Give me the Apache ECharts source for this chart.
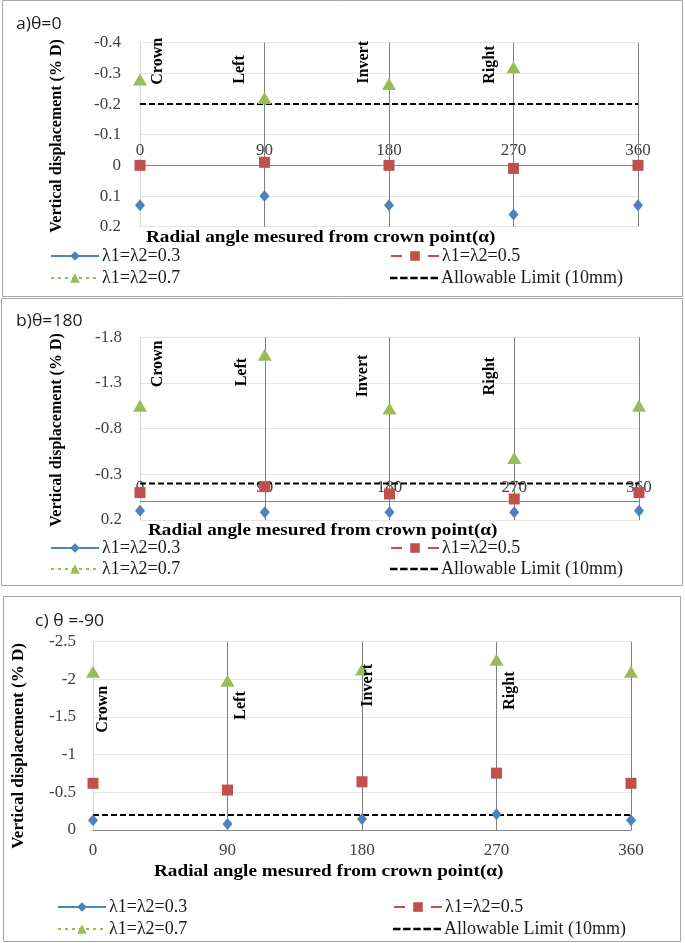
<!DOCTYPE html>
<html>
<head>
<meta charset="utf-8">
<script src="https://cdn.jsdelivr.net/npm/echarts@6/dist/echarts.min.js"></script>
<style>
html,body{margin:0;padding:0;background:#fff;}
#main{width:685px;height:943px;}
</style>
</head>
<body>
<div id="main"></div>
<script>
// ---------- data ----------
const angles = [0, 90, 180, 270, 360];
const dividerAngles = [90, 180, 270, 360];
const sectionAngles = [0, 90, 180, 270];
const sectionNames = ['Crown', 'Left', 'Invert', 'Right'];
const seriesNames = ['λ1=λ2=0.3', 'λ1=λ2=0.5', 'λ1=λ2=0.7'];
const limitName = 'Allowable Limit (10mm)';
const panelTitles = ['a)θ=0', 'b)θ=180', 'c) θ =-90'];
const xAxisTitle = 'Radial angle mesured from crown point(α)';
const yAxisTitle = 'Vertical displacement (% D)';

const yTicksA = [-0.4, -0.3, -0.2, -0.1, 0, 0.1, 0.2];
const yTicksB = [-1.8, -1.3, -0.8, -0.3, 0.2];
const yTicksC = [-2.5, -2, -1.5, -1, -0.5, 0];

const a03 = [0.13, 0.10, 0.13, 0.16, 0.13];
const a05 = [0.00, -0.01, 0.00, 0.01, 0.00];
const a07 = [-0.28, -0.22, -0.265, -0.32, null];
const aLimit = [-0.2, -0.2, -0.2, -0.2, -0.2];

const b03 = [0.10, 0.115, 0.115, 0.115, 0.10];
const b05 = [-0.10, -0.165, -0.085, -0.03, -0.10];
const b07 = [-1.05, -1.61, -1.02, -0.48, -1.05];
const bLimit = [-0.2, -0.2, -0.2, -0.2, -0.2];

const c03 = [-0.13, -0.08, -0.145, -0.21, -0.13];
const c05 = [-0.62, -0.53, -0.64, -0.755, -0.62];
const c07 = [-2.10, -1.98, -2.13, -2.26, -2.10];
const cLimit = [-0.2, -0.2, -0.2, -0.2, -0.2];

const panelData = [
  { ticks: yTicksA, vals: [a03, a05, a07], limit: aLimit },
  { ticks: yTicksB, vals: [b03, b05, b07], limit: bLimit },
  { ticks: yTicksC, vals: [c03, c05, c07], limit: cLimit }
];

// ---------- layout & style ----------
const SERIF = "'Liberation Serif','Times New Roman',serif";
const SANS = "'Open Sans','Noto Sans',sans-serif";
const layout = [
  { box: [2.5, 0.5, 680, 296], grid: { left: 140, top: 42.7, width: 498, height: 184 },
    title: [16, 24], yTitle: [57, 136, 16], xTitle: [146, 238],
    legRows: [257, 279], legCols: [50, 390], xInside: true, xMargin: 6, yMargin: 19, tick: 17,
    sectDx: [18, -25, -25, -24], sectBottom: [42, 41, 41, 41] },
  { box: [1.5, 298.5, 681, 287], grid: { left: 140, top: 337.3, width: 499, height: 182.7 },
    title: [16, 321], yTitle: [57, 430, 16], xTitle: [148, 531],
    legRows: [549, 570], legCols: [50, 390], xInside: true, xMargin: 6, yMargin: 18, tick: 17,
    sectDx: [18, -23, -27, -24], sectBottom: [50, 49, 60, 58] },
  { box: [3.5, 596.5, 677, 345], grid: { left: 93, top: 641.7, width: 538, height: 188.3 },
    title: [35, 621], yTitle: [19, 746, 17], xTitle: [154, 872],
    legRows: [908, 930], legCols: [57, 393], xInside: false, xMargin: 12, yMargin: 17, tick: 17,
    sectDx: [10, 13, 6, 13], sectBottom: [91, 78, 65, 68] }
];
const colors = ['#4f81bd', '#c0504d', '#9bbb59'];
const symbols = ['diamond', 'rect', 'triangle'];
const symbolSizes = [[10, 12], [11, 11], [14, 12]];
const lineTypes = ['solid', [11, 26], [3, 4]];
const lineWidths = [2, 2, 3];
const limitIcon = 'path://M0,0h7v2.5h-7z M9.5,0h7v2.5h-7z M19,0h7v2.5h-7z M28.5,0h7v2.5h-7z M38,0h7v2.5h-7z';

const fmt = v => String(Math.round(v * 10) / 10);

const grids = [], xAxes = [], yAxes = [], series = [], legends = [], graphics = [];

layout.forEach((L, p) => {
  const D = panelData[p];
  grids.push(Object.assign({ containLabel: false }, L.grid));
  xAxes.push({
    type: 'value', gridIndex: p, min: angles[0], max: angles[angles.length - 1],
    interval: angles[1] - angles[0], position: 'bottom',
    axisLine: { onZero: false, lineStyle: { color: '#868686', width: 1 } },
    axisTick: { show: false },
    splitLine: { show: false },
    axisLabel: { inside: L.xInside, margin: L.xMargin, color: '#404040', fontFamily: SERIF, fontSize: L.tick }
  });
  const t = D.ticks;
  yAxes.push({
    type: 'value', gridIndex: p, inverse: true,
    min: t[0], max: t[t.length - 1], interval: Math.round((t[1] - t[0]) * 100) / 100,
    axisLine: { show: true, onZero: false, lineStyle: { color: '#d4d4d4' } },
    axisTick: { show: false },
    splitLine: { show: true, lineStyle: { color: '#e6e6dc', width: 1 } },
    axisLabel: { margin: L.yMargin, color: '#404040', fontFamily: SERIF, fontSize: L.tick, formatter: fmt }
  });
  series.push({
    name: limitName, type: 'line', xAxisIndex: p, yAxisIndex: p,
    data: angles.map((a, i) => [a, D.limit[i]]),
    showSymbol: false, symbol: 'none',
    lineStyle: { color: '#000', width: 2, type: [6, 3] },
    itemStyle: { color: '#000' },
    z: 3, silent: true,
    markLine: {
      silent: true, symbol: ['none', 'none'], label: { show: false },
      lineStyle: { color: '#7f7f7f', width: 1, type: 'solid' },
      data: dividerAngles.map(a => ({ xAxis: a })),
      z: 1
    }
  });
  seriesNames.forEach((nm, s) => {
    series.push({
      name: nm, type: 'line', xAxisIndex: p, yAxisIndex: p,
      data: angles.map((a, i) => [a, D.vals[s][i]]),
      symbol: symbols[s], symbolSize: symbolSizes[s], showSymbol: true,
      lineStyle: { color: colors[s], width: lineWidths[s], type: lineTypes[s], opacity: 0 },
      itemStyle: { color: colors[s] },
      connectNulls: false, z: 4, silent: true
    });
  });
  const items = [
    [{ name: seriesNames[0] }, 0, 0], [{ name: seriesNames[1] }, 0, 1],
    [{ name: seriesNames[2] }, 1, 0], [{ name: limitName, icon: limitIcon }, 1, 1]
  ];
  items.forEach(([it, r, c]) => {
    legends.push({
      data: [it], left: L.legCols[c], top: L.legRows[r] - 10, padding: 0,
      itemWidth: 48, itemHeight: 12, itemGap: 0, selectedMode: false,
      lineStyle: { opacity: 1 },
      textStyle: { fontFamily: SERIF, fontSize: 18, color: '#1a1a1a', padding: [0, 0, 0, -2] }
    });
  });
  graphics.push({ type: 'rect', shape: { x: L.box[0], y: L.box[1], width: L.box[2], height: L.box[3] },
    style: { fill: 'none', stroke: '#a6a6a6', lineWidth: 1 }, silent: true, z: -10 });
  graphics.push({ type: 'text', x: L.title[0], y: L.title[1], scaleX: 1.1,
    style: { text: panelTitles[p], font: '16px ' + SANS, fill: '#1a1a1a', textVerticalAlign: 'middle' } });
  graphics.push({ type: 'text', x: L.xTitle[0], y: L.xTitle[1], scaleX: 1.2,
    style: { text: xAxisTitle, font: 'bold 16px ' + SERIF, fill: '#000', textVerticalAlign: 'middle' } });
  graphics.push({ type: 'text', x: L.yTitle[0], y: L.yTitle[1], rotation: Math.PI / 2,
    style: { text: yAxisTitle, font: 'bold ' + L.yTitle[2] + 'px ' + SERIF, fill: '#000', textAlign: 'center', textVerticalAlign: 'middle' } });
});

const chart = echarts.init(document.getElementById('main'), null, { renderer: 'canvas' });
chart.setOption({
  animation: false,
  backgroundColor: '#fff',
  grid: grids, xAxis: xAxes, yAxis: yAxes, series: series, legend: legends
});

// x axis crosses the vertical axis at 0 (offset derived from the y scale)
const xOffsets = layout.map((L, p) => {
  const zeroPx = chart.convertToPixel({ yAxisIndex: p }, 0);
  return zeroPx - (L.grid.top + L.grid.height);
});
chart.setOption({ xAxis: xOffsets.map(o => ({ offset: o })) });

// section labels placed through the axis scales
layout.forEach((L, p) => {
  sectionAngles.forEach((a, k) => {
    const px = chart.convertToPixel({ xAxisIndex: p }, a);
    graphics.push({ type: 'text', x: px + L.sectDx[k], y: L.grid.top + L.sectBottom[k], rotation: Math.PI / 2,
      style: { text: sectionNames[k], font: 'bold 16px ' + SERIF, fill: '#000', textAlign: 'left', textVerticalAlign: 'middle' }, z: 10 });
  });
});
chart.setOption({ graphic: graphics });
</script>
</body>
</html>
